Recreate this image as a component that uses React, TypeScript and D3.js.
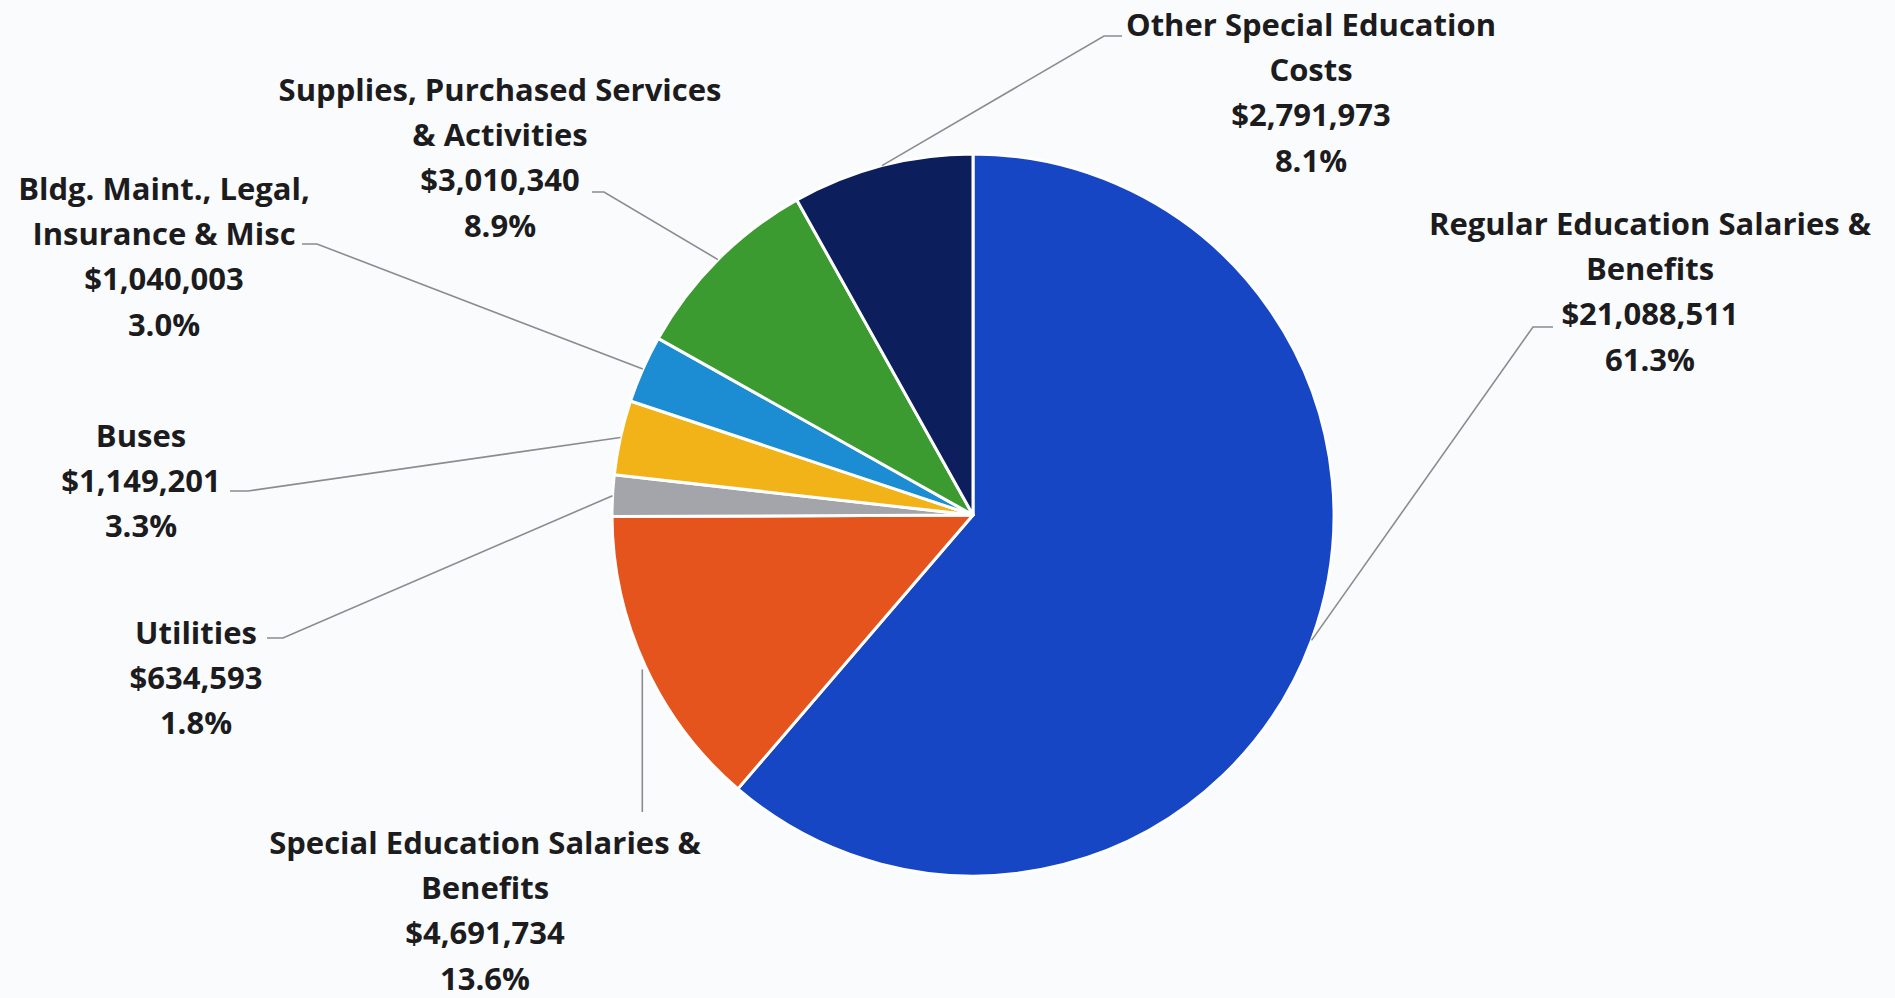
import React, { useEffect } from "react";
import * as d3 from "d3";

// ---- data ----
const categories = [
  "Regular Education Salaries & Benefits",
  "Special Education Salaries & Benefits",
  "Utilities",
  "Buses",
  "Bldg. Maint., Legal, Insurance & Misc",
  "Supplies, Purchased Services & Activities",
  "Other Special Education Costs",
];
const categoryLines = [
  ["Regular Education Salaries &", "Benefits"],
  ["Special Education Salaries &", "Benefits"],
  ["Utilities"],
  ["Buses"],
  ["Bldg. Maint., Legal,", "Insurance & Misc"],
  ["Supplies, Purchased Services", "& Activities"],
  ["Other Special Education", "Costs"],
];
const values = [21088511, 4691734, 634593, 1149201, 1040003, 3010340, 2791973];
const percentLabels = ["61.3%", "13.6%", "1.8%", "3.3%", "3.0%", "8.9%", "8.1%"];

// ---- styles / layout ----
const colors = ["#1746C4", "#E5541C", "#A4A4AB", "#F1B318", "#1C8DD3", "#3C9B30", "#0C1F5C"];
const W = 1895;
const H = 998;
const CX = 973;
const CY = 515;
const R = 361;
const FONT = "'Open Sans', Lato, sans-serif";
const FS = 31;
const LINE = 45.2;
// label layout: centre x, first baseline, leader elbow, leader end (null elbow = straight vertical)
const labelLayout = [
  { x: 1650, y: 235, elbow: [1533, 327], end: [1553, 327] },
  { x: 485, y: 854, elbow: null, end: [null, 812] },
  { x: 196, y: 644, elbow: [283, 638], end: [267, 638] },
  { x: 141, y: 447, elbow: [248, 491], end: [230, 491] },
  { x: 164, y: 200, elbow: [317, 244], end: [302, 244] },
  { x: 500, y: 101, elbow: [604, 192], end: [592, 192] },
  { x: 1311, y: 36, elbow: [1104, 36], end: [1122, 36] },
];

const fmtMoney = (v: number) => "$" + d3.format(",")(v);

export default function App() {
  useEffect(() => {
    document.body.style.margin = "0";
  }, []);

  const pie = d3
    .pie<number>()
    .sort(null)
    .startAngle(0)
    .endAngle(2 * Math.PI)
    .value((d) => d);
  const arcs = pie(values);
  const arc = d3.arc<d3.PieArcDatum<number>>().innerRadius(0).outerRadius(R);
  const edge = d3.arc<d3.PieArcDatum<number>>().innerRadius(R).outerRadius(R);

  return (
    <svg width={W} height={H} style={{ display: "block", background: "#FAFBFC" }}>
      <rect x={0} y={0} width={W} height={H} fill="#FAFBFC" />
      <g transform={`translate(${CX},${CY})`}>
        {arcs.map((a, i) => (
          <path key={categories[i]} d={arc(a) || ""} fill={colors[i]} stroke="#FFFFFF" strokeWidth={3} strokeLinejoin="round" />
        ))}
      </g>
      {arcs.map((a, i) => {
        const [ex, ey] = edge.centroid(a);
        const sx = CX + ex;
        const sy = CY + ey;
        const L = labelLayout[i];
        let pts: [number, number][];
        if (L.elbow) {
          pts = [[sx, sy], [L.elbow[0] as number, L.elbow[1] as number], [L.end[0] as number, L.end[1] as number]];
        } else {
          pts = [[sx - 3, sy + 3], [sx - 3, L.end[1] as number]];
        }
        const line = d3.line()(pts) || "";
        return <path key={"l" + i} d={line} fill="none" stroke="#8A8C90" strokeWidth={1.6} />;
      })}
      {labelLayout.map((L, i) => {
        const lines = [...categoryLines[i], fmtMoney(values[i]), percentLabels[i]];
        return (
          <text
            key={"t" + i}
            x={L.x}
            y={L.y}
            textAnchor="middle"
            fontFamily={FONT}
            fontWeight={700}
            fontSize={FS}
            fill="#1C1C1E"
          >
            {lines.map((s, j) => (
              <tspan key={j} x={L.x} y={L.y + j * LINE}>
                {s}
              </tspan>
            ))}
          </text>
        );
      })}
    </svg>
  );
}
